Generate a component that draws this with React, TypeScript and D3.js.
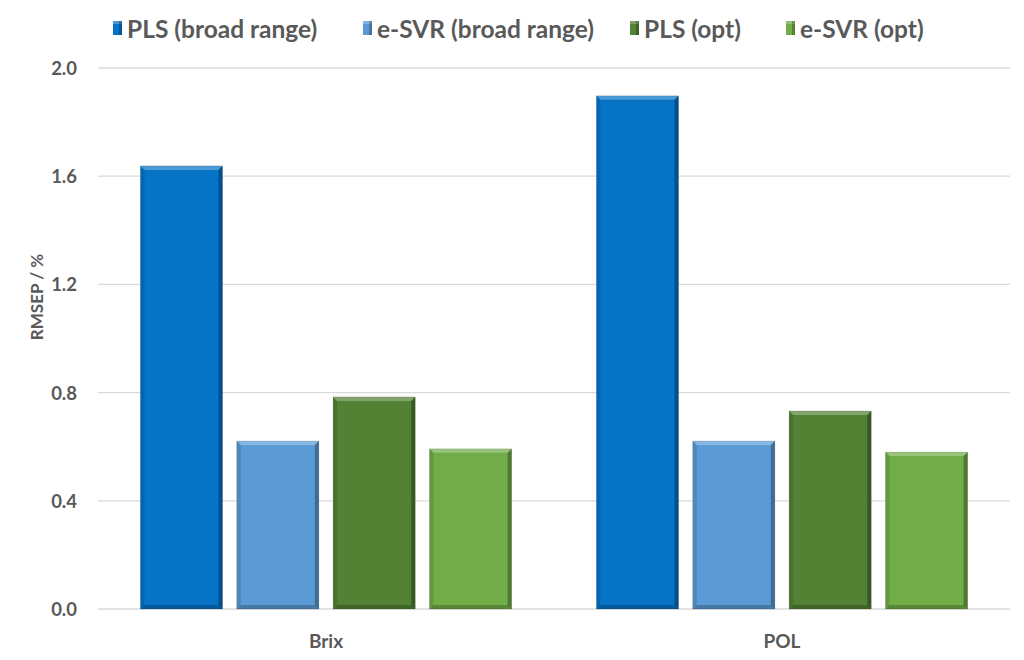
import { scaleBand, scaleLinear } from 'd3'

// RMSEP per model, two target properties
const categories = ['Brix', 'POL']
const series = ['PLS (broad range)', 'e-SVR (broad range)', 'PLS (opt)', 'e-SVR (opt)']
const colors = ['#0673C6', '#5B9BD5', '#548235', '#70AD47']
const values: number[][] = [
  // Brix, POL per series
  [1.638, 1.897],
  [0.621, 0.621],
  [0.784, 0.732],
  [0.592, 0.580],
]
const yTicks = [0, 0.4, 0.8, 1.2, 1.6, 2.0]

const W = 1024
const H = 660
const M = { top: 68, right: 14, bottom: 51, left: 98 }
const FONT = 'Lato, "Open Sans", sans-serif'
const TEXT = '#595959'
const BEVEL = 4

function Bar({ x, y, w, h, color }: { x: number; y: number; w: number; h: number; color: string }) {
  const b = Math.min(BEVEL, h / 2)
  const x2 = x + w
  const y2 = y + h
  return (
    <g>
      <rect x={x} y={y} width={w} height={h} fill={color} />
      {/* top highlight */}
      <polygon points={`${x},${y} ${x2},${y} ${x2 - b},${y + b} ${x + b},${y + b}`} fill="#fff" opacity={0.28} />
      {/* left edge */}
      <polygon points={`${x},${y} ${x + b},${y + b} ${x + b},${y2 - b} ${x},${y2}`} fill="#000" opacity={0.12} />
      {/* right edge */}
      <polygon points={`${x2},${y} ${x2},${y2} ${x2 - b},${y2 - b} ${x2 - b},${y + b}`} fill="#000" opacity={0.3} />
      {/* bottom edge */}
      <polygon points={`${x},${y2} ${x2},${y2} ${x2 - b},${y2 - b} ${x + b},${y2 - b}`} fill="#000" opacity={0.22} />
      <rect x={x} y={y} width={w} height={h} fill="none" stroke="#000" strokeOpacity={0.15} strokeWidth={0.8} />
    </g>
  )
}

const legendX = [113, 363, 630, 786]

export default function App() {
  const innerW = W - M.left - M.right
  const innerH = H - M.top - M.bottom
  const yScale = scaleLinear().domain([0, 2]).range([M.top + innerH, M.top])
  const xCat = scaleBand().domain(categories).range([M.left, M.left + innerW]).paddingInner(0).paddingOuter(0)
  const xSer = scaleBand<number>()
    .domain(series.map((_, i) => i))
    .range([0, xCat.bandwidth()])
    .paddingInner(0.148)
    .paddingOuter(0.44)

  return (
    <svg width={W} height={H} style={{ position: 'absolute', left: 0, top: 0, background: '#fff' }} fontFamily={FONT}>
      {/* legend */}
      {series.map((s, i) => (
        <g key={s} transform={`translate(${legendX[i]}, 21)`}>
          <rect x={0} y={0} width={9} height={14} fill={colors[i]} />
          <rect x={0} y={0} width={9} height={3} fill="#fff" opacity={0.25} />
          <rect x={6} y={0} width={3} height={14} fill="#000" opacity={0.25} />
          <text x={14} y={7} dominantBaseline="central" fontSize={24.5} fontWeight={700} fill={TEXT}>
            {s}
          </text>
        </g>
      ))}

      {/* gridlines + y ticks */}
      {yTicks.map((t) => (
        <g key={t}>
          <line x1={M.left} x2={M.left + innerW} y1={yScale(t)} y2={yScale(t)} stroke="#D9D9D9" strokeWidth={1.3} />
          <text x={77} y={yScale(t)} textAnchor="end" dominantBaseline="central" fontSize={18.5} fontWeight={700} fill={TEXT}>
            {t.toFixed(1)}
          </text>
        </g>
      ))}

      <text
        transform={`translate(36, 297) rotate(-90)`}
        textAnchor="middle"
        dominantBaseline="central"
        fontSize={17}
        fontWeight={700}
        fill={TEXT}
      >
        RMSEP / %
      </text>

      {/* bars */}
      {categories.map((c, ci) => (
        <g key={c}>
          {series.map((s, si) => {
            const v = values[si][ci]
            const x = (xCat(c) ?? 0) + (xSer(si) ?? 0)
            const y = yScale(v)
            return <Bar key={s} x={x} y={y} w={xSer.bandwidth()} h={yScale(0) - y} color={colors[si]} />
          })}
          <text
            x={(xCat(c) ?? 0) + xCat.bandwidth() / 2}
            y={640}
            textAnchor="middle"
            dominantBaseline="central"
            fontSize={19}
            fontWeight={700}
            fill={TEXT}
          >
            {c}
          </text>
        </g>
      ))}
    </svg>
  )
}
